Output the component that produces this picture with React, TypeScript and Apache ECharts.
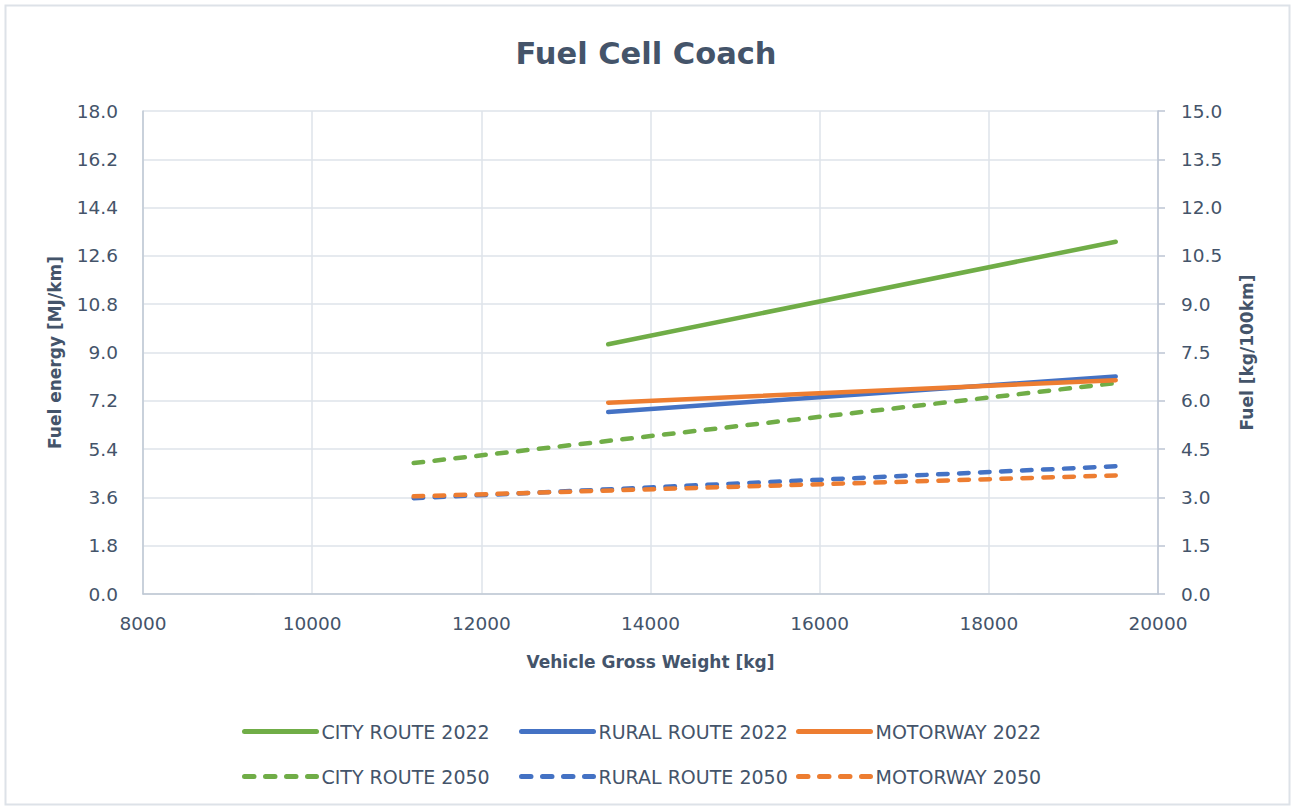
import React, { useEffect, useRef } from "react";
import * as echarts from "echarts";

const TITLE = "Fuel Cell Coach";
const X_NAME = "Vehicle Gross Weight [kg]";
const Y_LEFT_NAME = "Fuel energy [MJ/km]";
const Y_RIGHT_NAME = "Fuel [kg/100km]";

const weights2022 = [13500, 19500];
const weights2050 = [11200, 19500];

const cityRoute2022 = [9.31, 13.13];
const ruralRoute2022 = [6.78, 8.11];
const motorway2022 = [7.13, 7.97];
const cityRoute2050 = [4.88, 7.86];
const ruralRoute2050 = [3.57, 4.76];
const motorway2050 = [3.64, 4.42];

const seriesNames = [
  "CITY ROUTE 2022",
  "RURAL ROUTE 2022",
  "MOTORWAY 2022",
  "CITY ROUTE 2050",
  "RURAL ROUTE 2050",
  "MOTORWAY 2050",
];

const GREEN = "#70AD47";
const BLUE = "#4472C4";
const ORANGE = "#ED7D31";
const TEXT = "#44546A";
const FONT = "DejaVu Sans";

const pairs = (xs: number[], ys: number[]) => xs.map((x, i) => [x, ys[i]]);

export default function App() {
  const ref = useRef<HTMLDivElement>(null);
  useEffect(() => {
    if (!ref.current) return;
    const chart = echarts.init(ref.current, null, { renderer: "svg" });
    const dash = [9.5, 11.5];
    const colors = [GREEN, BLUE, ORANGE, GREEN, BLUE, ORANGE];
    const mk = (name: string, xs: number[], ys: number[], color: string, dashed: boolean) => ({
      name,
      type: "line",
      data: pairs(xs, ys),
      symbol: "none",
      showSymbol: false,
      color,
      lineStyle: { color, width: 4.5, type: dashed ? dash : "solid", cap: "round" },
      z: dashed ? 3 : 4,
    });
    const legendCols = [242, 519, 796];
    const legendRows = [722, 767];
    const legends = seriesNames.map((n, i) => ({
      data: [n],
      left: legendCols[i % 3],
      top: legendRows[Math.floor(i / 3)],
      itemWidth: 72,
      itemHeight: 14,
      itemGap: 0,
      padding: 0,
      itemStyle: { opacity: 0 },
      lineStyle: {
        color: colors[i],
        width: 5,
        type: i >= 3 ? dash : "solid",
        cap: "round",
      },
      textStyle: { color: TEXT, fontSize: 19, fontFamily: FONT },
      selectedMode: false,
    }));
    chart.setOption({
      animation: false,
      backgroundColor: "#ffffff",
      title: {
        text: TITLE,
        left: "center",
        top: 33,
        textStyle: { color: TEXT, fontSize: 30.5, fontWeight: "bold", fontFamily: FONT },
      },
      legend: legends,
      grid: { left: 143, right: 134, top: 111, bottom: 216, containLabel: false },
      xAxis: {
        type: "value",
        min: 8000,
        max: 20000,
        interval: 2000,
        name: X_NAME,
        nameLocation: "middle",
        nameGap: 59,
        nameTextStyle: { color: TEXT, fontSize: 17, fontWeight: "bold", fontFamily: FONT },
        axisLine: { show: true, lineStyle: { color: "#BFC8D4", width: 1.5 } },
        axisTick: { show: false },
        splitLine: { show: true, lineStyle: { color: "#DEE3EA", width: 1.5 } },
        axisLabel: {
          color: TEXT,
          fontSize: 18.5,
          fontFamily: FONT,
          margin: 20,
          formatter: (v: number) => String(v),
        },
      },
      yAxis: [
        {
          type: "value",
          min: 0,
          max: 18,
          interval: 1.8,
          position: "left",
          name: Y_LEFT_NAME,
          nameLocation: "middle",
          nameRotate: 90,
          nameGap: 80,
          nameTextStyle: { color: TEXT, fontSize: 17, fontWeight: "bold", fontFamily: FONT },
          axisLine: { show: true, lineStyle: { color: "#BFC8D4", width: 1.5 } },
          axisTick: { show: false },
          splitLine: { show: true, lineStyle: { color: "#DEE3EA", width: 1.5 } },
          axisLabel: {
            color: TEXT,
            fontSize: 18.5,
            fontFamily: FONT,
            margin: 25,
            formatter: (v: number) => v.toFixed(1),
          },
        },
        {
          type: "value",
          min: 0,
          max: 15,
          interval: 1.5,
          position: "right",
          name: Y_RIGHT_NAME,
          nameLocation: "middle",
          nameRotate: 90,
          nameGap: 80,
          nameTextStyle: { color: TEXT, fontSize: 17, fontWeight: "bold", fontFamily: FONT },
          axisLine: { show: true, lineStyle: { color: "#BCC5D3", width: 1.5 } },
          axisTick: { show: true, inside: false, length: 7, lineStyle: { color: "#BCC5D3", width: 1.5 } },
          splitLine: { show: false },
          axisLabel: {
            color: TEXT,
            fontSize: 18.5,
            fontFamily: FONT,
            margin: 23,
            formatter: (v: number) => v.toFixed(1),
          },
        },
      ],
      graphic: [
        {
          type: "rect",
          shape: { x: 5.5, y: 5.5, width: 1284, height: 799 },
          style: { fill: "none", stroke: "#DDE2E8", lineWidth: 2 },
          silent: true,
        },
      ],
      series: [
        mk(seriesNames[0], weights2022, cityRoute2022, GREEN, false),
        mk(seriesNames[1], weights2022, ruralRoute2022, BLUE, false),
        mk(seriesNames[2], weights2022, motorway2022, ORANGE, false),
        mk(seriesNames[3], weights2050, cityRoute2050, GREEN, true),
        mk(seriesNames[4], weights2050, ruralRoute2050, BLUE, true),
        mk(seriesNames[5], weights2050, motorway2050, ORANGE, true),
      ],
    });
    return () => chart.dispose();
  }, []);
  return (
    <div
      ref={ref}
      style={{ position: "absolute", left: 0, top: 0, width: 1292, height: 810 }}
    />
  );
}
